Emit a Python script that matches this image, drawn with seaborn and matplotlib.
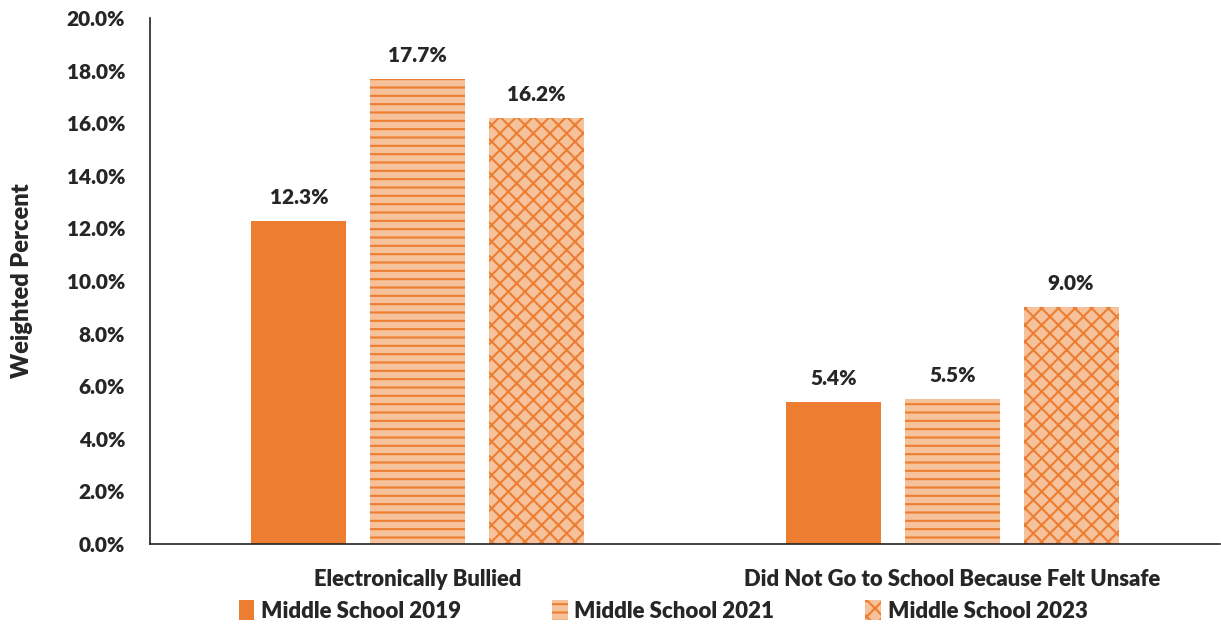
import pandas as pd
import matplotlib.pyplot as plt
import seaborn as sns
from matplotlib.patches import Patch

sns.set_theme(style="white")
plt.rcParams['font.family'] = ['Lato', 'DejaVu Sans']
plt.rcParams['hatch.linewidth'] = 1.5

categories = ["Electronically Bullied", "Did Not Go to School Because Felt Unsafe"]
groups = ["Middle School 2019", "Middle School 2021", "Middle School 2023"]
ms_2019 = [12.3, 5.4]
ms_2021 = [17.7, 5.5]
ms_2023 = [16.2, 9.0]

df = pd.DataFrame({
    "category": categories * 3,
    "group": [groups[0]] * 2 + [groups[1]] * 2 + [groups[2]] * 2,
    "pct": ms_2019 + ms_2021 + ms_2023,
})

solid = "#ED7D31"
light = "#F5C29C"
face = {groups[0]: solid, groups[1]: light, groups[2]: light}
hatches = {groups[0]: "", groups[1]: "--", groups[2]: "xx"}
fs = 15

fig, ax = plt.subplots(figsize=(12.21, 6.26), dpi=100)
sns.barplot(data=df, x="category", y="pct", hue="group", palette=face,
            width=0.666, gap=0.2, ax=ax, legend=False, saturation=1)

for cont, g in zip(ax.containers, groups):
    for bar in cont:
        bar.set_hatch(hatches[g])
        bar.set_edgecolor(solid)
        bar.set_linewidth(0)
    ax.bar_label(cont, labels=[f"{v:.1f}%" for v in cont.datavalues],
                 padding=10, fontsize=fs, fontweight="heavy")

ax.set_ylim(0, 20)
ax.set_xlim(-0.5, 1.5)
ax.set_yticks(range(0, 21, 2))
ax.set_yticklabels([f"{v:.1f}%" for v in range(0, 21, 2)], fontsize=fs, fontweight="heavy")
ax.tick_params(axis="x", labelsize=fs + 0.8, pad=12)
ax.tick_params(axis="y", pad=12)
for t in ax.get_xticklabels():
    t.set_fontweight("heavy")
ax.set_xlabel("")
ax.set_ylabel("Weighted Percent", fontsize=17, fontweight="heavy", labelpad=24)
sns.despine(ax=ax)
for s in ["left", "bottom"]:
    ax.spines[s].set_color("#222222")
    ax.spines[s].set_linewidth(1.2)

handles = [Patch(facecolor=face[g], hatch=hatches[g], edgecolor=solid, linewidth=0) for g in groups]
fig.legend(handles, groups, loc="lower center", ncol=3, frameon=False,
           bbox_to_anchor=(0.543, -0.025), prop={"weight": "heavy", "size": 16},
           columnspacing=4.1, handlelength=0.7, handleheight=1.0, handletextpad=0.3)

fig.subplots_adjust(left=0.123, right=0.999, top=0.971, bottom=0.131)
fig.savefig("out.png", dpi=100)
